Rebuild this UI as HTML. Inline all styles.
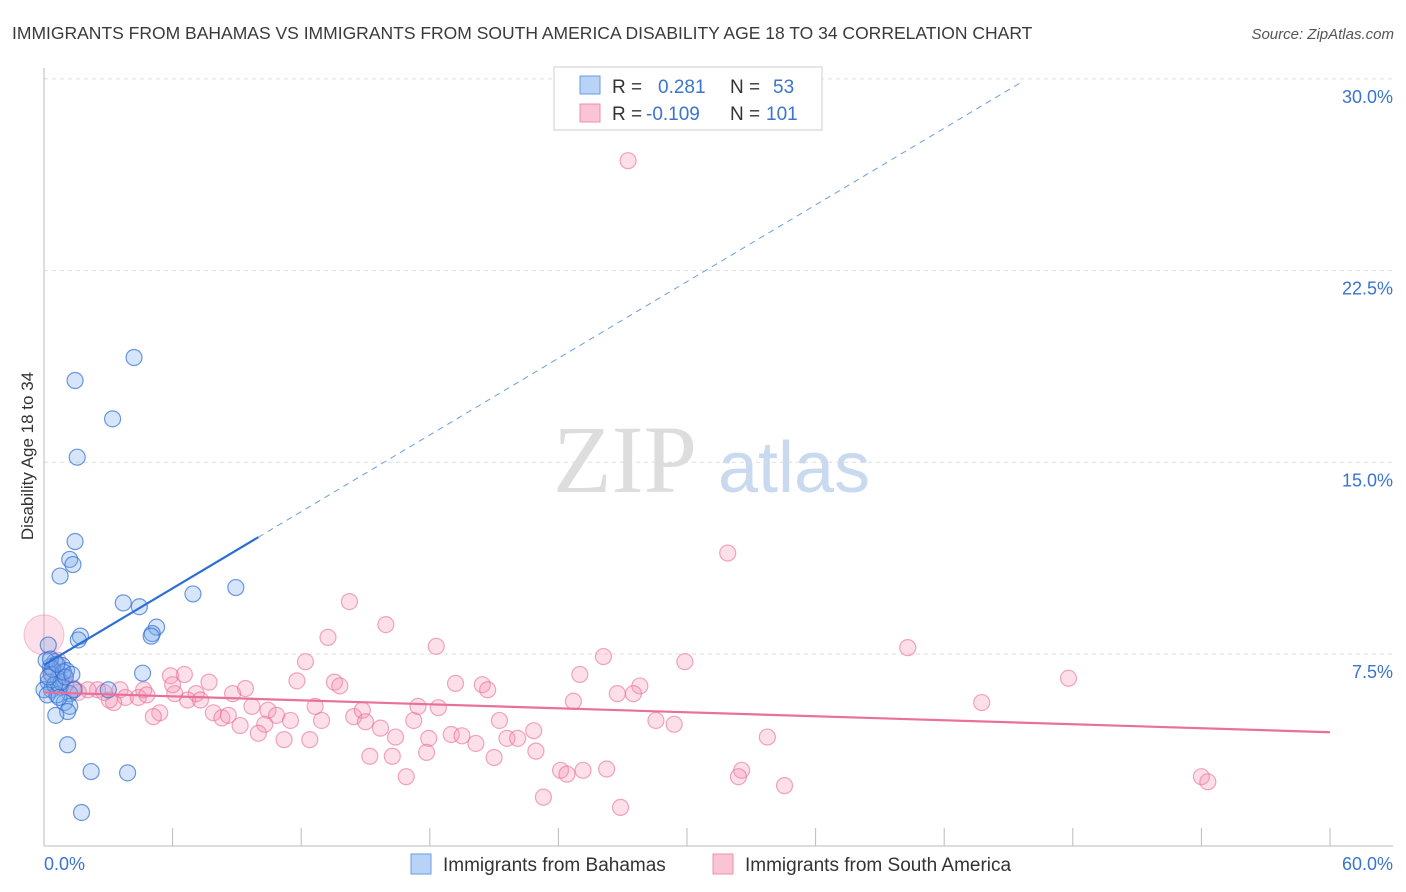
<!DOCTYPE html>
<html><head><meta charset="utf-8"><style>
body{margin:0;background:#fff;font-family:"Liberation Sans",sans-serif;}
svg{display:block}
</style></head><body>
<svg width="1406" height="892" id="chart">
<text x="12" y="39" font-size="17.5" fill="#3a3a3a">IMMIGRANTS FROM BAHAMAS VS IMMIGRANTS FROM SOUTH AMERICA DISABILITY AGE 18 TO 34 CORRELATION CHART</text>
<text x="1394" y="39" font-size="15" fill="#555" font-style="italic" text-anchor="end">Source: ZipAtlas.com</text>
<text x="0" y="0" transform="translate(33,456) rotate(-90)" font-size="17" fill="#333" text-anchor="middle">Disability Age 18 to 34</text>
<g><text x="553" y="492" font-size="96" fill="#ddd" font-family="Liberation Serif,serif">ZIP</text><text x="718" y="492" font-size="72" fill="#c9d9ef">atlas</text></g>
<g id="grid"></g><g id="axes"></g><g id="pts"></g><g id="trend"></g>
<g>
<rect x="554" y="67" width="268" height="63" fill="#fff" stroke="#ccc"/>
<rect x="580" y="76" width="20" height="18" fill="#b8d3f5" stroke="#6a9ee0"/>
<rect x="580" y="104" width="20" height="18" fill="#f9c4d4" stroke="#ec90ad"/>
<text x="612" y="93" font-size="19" fill="#333">R =</text><text x="658" y="93" font-size="19" fill="#3a74d0">0.281</text>
<text x="730" y="93" font-size="19" fill="#333">N =</text><text x="773" y="93" font-size="19" fill="#3a74d0">53</text>
<text x="612" y="120" font-size="19" fill="#333">R =</text><text x="646" y="120" font-size="19" fill="#3a74d0">-0.109</text>
<text x="730" y="120" font-size="19" fill="#333">N =</text><text x="766" y="120" font-size="19" fill="#3a74d0">101</text>
</g>
<g>
<rect x="411" y="854" width="20" height="20" fill="#b8d3f5" stroke="#6a9ee0"/>
<text x="443" y="871" font-size="19" fill="#333">Immigrants from Bahamas</text>
<rect x="713" y="854" width="20" height="20" fill="#f9c4d4" stroke="#ec90ad"/>
<text x="745" y="871" font-size="19" fill="#333">Immigrants from South America</text>
</g>
</svg>
<script>
const yTicks=[7.5,15,22.5,30];
const yTickLabels=["7.5%","15.0%","22.5%","30.0%"];
const xTickLabels=["0.0%","60.0%"];
const blueX=[4.2,1.45,3.2,1.55,1.45,1.2,1.35,0.75,3.7,4.45,6.95,8.95,5.25,5.05,5.0,1.7,1.6,4.6,0.5,0.3,0.85,1.05,0.65,0.2,0.35,0.75,1.2,3.0,0.95,1.2,1.1,0.55,1.1,2.2,3.9,1.75,0.1,0.35,0,0.6,1.4,0.2,0.4,0.8,0.3,0.9,0.5,1.0,0.2,0.6,1.3,0.15,0.7];
const blueY=[19.1,18.2,16.7,15.2,11.9,11.2,11.0,10.55,9.5,9.35,9.85,10.1,8.55,8.3,8.2,8.2,8.05,6.75,7.2,7.0,7.05,6.85,6.55,6.4,6.1,6.2,5.95,6.1,5.6,5.45,5.25,5.1,3.95,2.9,2.85,1.3,7.25,6.7,6.1,5.9,6.1,7.85,6.9,6.4,7.3,6.8,6.3,6.6,6.6,7.1,6.7,5.9,5.8];
const pinkX=[27.25,31.9,14.25,15.95,13.25,18.3,40.3,26.1,29.9,12.2,25.0,47.8,6.55,5.9,7.7,11.8,13.55,13.8,19.2,20.45,20.7,27.8,26.75,27.5,24.7,43.75,9.4,8.8,6.1,7.1,6.7,7.3,4.65,3.55,3.8,4.4,3.25,2.5,2.05,1.4,5.4,5.1,7.9,8.3,8.6,9.15,9.7,10.45,10.85,10.3,11.5,12.65,12.95,14.45,14.85,15.0,15.7,17.25,17.45,18.4,16.4,17.95,19.0,19.5,20.15,21.25,21.6,22.1,22.85,22.95,11.2,12.4,10.0,15.2,16.25,21.0,17.85,16.9,24.1,24.4,25.15,26.25,23.3,26.9,28.55,29.4,33.75,32.55,32.4,34.55,54.0,54.3,0.65,0.95,3.05,1.0,2.8,4.8,6.0,0.3,1.6];
const pinkY=[26.8,11.45,9.55,8.65,8.15,7.8,7.75,7.4,7.2,7.2,6.7,6.55,6.7,6.65,6.4,6.45,6.4,6.25,6.35,6.3,6.1,6.25,5.95,5.95,5.65,5.6,6.15,5.95,5.95,5.95,5.7,5.7,6.1,6.1,5.8,5.8,5.6,6.1,6.1,6.15,5.2,5.05,5.2,5.0,5.1,4.7,5.45,5.3,5.1,4.75,4.9,5.45,4.9,5.05,5.3,4.85,4.6,4.9,5.45,5.4,4.25,4.2,4.35,4.3,4.0,4.9,4.2,4.2,4.5,3.7,4.15,4.15,4.4,3.5,3.5,3.45,3.65,2.7,2.95,2.8,2.95,3.0,1.9,1.5,4.9,4.75,4.25,2.95,2.7,2.35,2.7,2.5,7.25,6.6,5.7,6.3,6.0,5.9,6.3,6.8,6.0];
const blueTrend=[7.07,0.5], pinkTrend=[6.0,-0.026];
const X=v=>44+v/60*1286, Y=v=>845.7-v/7.5*191.7;
const NS="http://www.w3.org/2000/svg";
function mk(p,t,a){const e=document.createElementNS(NS,t);for(const k in a)e.setAttribute(k,a[k]);document.getElementById(p).appendChild(e);return e;}
yTicks.forEach((v,i)=>{
 const l=mk('grid','line',{x1:44,x2:1393,y1:Y(v),y2:Y(v),stroke:'#ddd','stroke-dasharray':'4,4'});
 
 
 const t=mk('grid','text',{x:1393,y:Y(v)+24,'font-size':18,fill:'#3a74d0','text-anchor':'end'});t.textContent=yTickLabels[i];
 
 
});
let a=mk('axes','line',{x1:44,x2:44,y1:68,y2:846,stroke:'#bbb'});


a=mk('axes','line',{x1:44,x2:1393,y1:846,y2:846,stroke:'#bbb'});


for(let i=0;i<=10;i++){const t=mk('axes','line',{x1:X(i*6),x2:X(i*6),y1:828,y2:846,stroke:'#bbb'});
 
 }
[[0,44,'start'],[60,1393,'end']].forEach((d,i)=>{const t=mk('axes','text',{x:d[1],y:870,'font-size':18,fill:'#3a74d0','text-anchor':d[2]});t.textContent=xTickLabels[i];
 
 });
pinkX.forEach((x,i)=>{const c=mk('pts','circle',{cx:X(x),cy:Y(pinkY[i]),r:8,fill:'rgba(244,150,180,0.3)',stroke:'rgba(232,110,150,0.6)','stroke-width':1.2});
 
 });
let big=mk('pts','circle',{cx:X(0),cy:Y(8.25),r:20,fill:'rgba(244,150,180,0.3)',stroke:'rgba(232,110,150,0.4)'});


blueX.forEach((x,i)=>{const c=mk('pts','circle',{cx:X(x),cy:Y(blueY[i]),r:8,fill:'rgba(120,170,235,0.3)',stroke:'rgba(50,110,210,0.7)','stroke-width':1.2});
 
 });
const bt=x=>blueTrend[0]+blueTrend[1]*x, pt=x=>pinkTrend[0]+pinkTrend[1]*x;
let l=mk('trend','line',{x1:X(0),y1:Y(bt(0)),x2:X(10),y2:Y(bt(10)),stroke:'#2b6fd6','stroke-width':2.2});


l=mk('trend','line',{x1:X(10),y1:Y(bt(10)),x2:X(45.6),y2:Y(bt(45.6)),stroke:'#6a9ee0','stroke-width':1,'stroke-dasharray':'6,5'});


l=mk('trend','line',{x1:X(0),y1:Y(pt(0)),x2:X(60),y2:Y(pt(60)),stroke:'#e8709a','stroke-width':2.2});


</script>
</body></html>
